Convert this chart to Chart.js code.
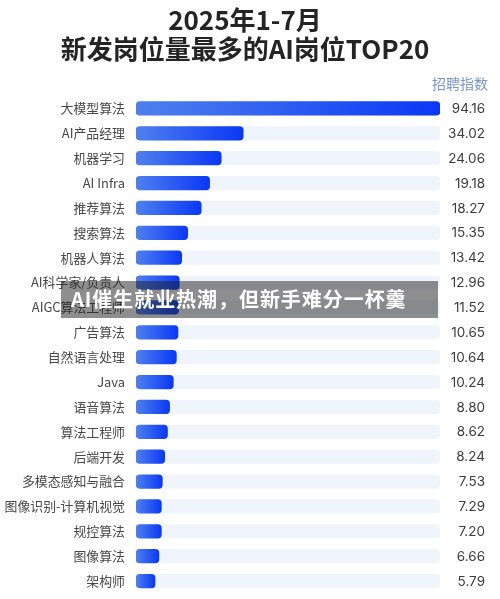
<!DOCTYPE html>
<html lang="zh-CN"><head><meta charset="utf-8">
<script src="https://cdn.jsdelivr.net/npm/chart.js@4/dist/chart.umd.min.js"></script>
<style>
html,body{margin:0;padding:0;background:#fff;width:500px;height:599px;overflow:hidden;font-family:"Noto Sans CJK SC",sans-serif}
#w{position:absolute;left:0;top:0;width:500px;height:599px}
.t{position:absolute;white-space:nowrap}
#t1,#t2{left:0;width:490px;text-align:center;font-weight:700;font-size:26px;line-height:30px;color:#242424}
#t1{top:4px}#t2{top:33px}
#u{right:12px;top:73px;font-size:14px;line-height:20px;color:#7b96cf}
#b{left:61px;top:281px;width:377px;height:37px;background:rgba(30,30,30,.5);}
#bt{left:71px;top:285px;font-size:20px;line-height:28px;font-weight:700;color:#fff;letter-spacing:.95px}
</style></head><body>
<div id="w"><canvas id="c" width="500" height="599"></canvas></div>
<div class="t" id="t1">2025年1-7月</div>
<div class="t" id="t2">新发岗位量最多的AI岗位TOP20</div>
<div class="t" id="u">招聘指数</div>
<div class="t" id="b"></div>
<div class="t" id="bt">AI催生就业热潮，但新手难分一杯羹</div>
<script>
const categories=["大模型算法","AI产品经理","机器学习","AI Infra","推荐算法","搜索算法","机器人算法","AI科学家/负责人","AIGC算法工程师","广告算法","自然语言处理","Java","语音算法","算法工程师","后端开发","多模态感知与融合","图像识别-计算机视觉","规控算法","图像算法","架构师"];
// Printed index values, as shown to the right of each bar.
const printedValues=["94.16","34.02","24.06","19.18","18.27","15.35","13.42","12.96","11.52","10.65","10.64","10.24","8.80","8.62","8.24","7.53","7.29","7.20","6.66","5.79"];
// Bar lengths as drawn in the picture (they do not follow the printed values exactly).
const barLengths=[94.16,33.2,26.4,22.8,20.2,16.0,14.15,13.4,13.2,13.0,12.5,11.55,10.4,9.75,8.9,8.15,7.85,7.85,7.1,5.9];
const trackMax=94.16;
const trackValues=categories.map(()=>trackMax);
Chart.defaults.animation=false;
Chart.defaults.font.family='"Noto Sans CJK SC","Noto Sans",sans-serif';
const valueLabels={id:'valueLabels',afterDatasetsDraw(ch){
  const {ctx,scales:{y}}=ch;ctx.save();
  ctx.font='13.5px Inter,"Noto Sans",sans-serif';ctx.fillStyle='#3c3c3c';ctx.textAlign='right';ctx.textBaseline='middle';
  printedValues.forEach((v,i)=>ctx.fillText(v,485,y.getPixelForValue(i)+0.5));
  ctx.restore();
}};
new Chart(document.getElementById('c'),{
  type:'bar',
  data:{labels:categories,datasets:[
    {data:barLengths,grouped:false,barThickness:13.5,borderRadius:4,borderSkipped:false,
     backgroundColor(c){const ch=c.chart,x=ch.scales.x;
       const a=x?x.getPixelForValue(0):NaN,b=x?x.getPixelForValue(barLengths[c.dataIndex]):NaN;
       if(!Number.isFinite(a)||!Number.isFinite(b)||c.dataIndex===undefined)return '#2a5cf0';
       const g=ch.ctx.createLinearGradient(a,0,b,0);
       g.addColorStop(0,'#4f80ee');g.addColorStop(1,'#0a38f6');return g;}},
    {data:trackValues,grouped:false,barThickness:13.5,borderRadius:4,borderSkipped:false,backgroundColor:'#f0f5fd'}
  ]},
  options:{indexAxis:'y',responsive:false,
    layout:{padding:{top:96,bottom:5.5,left:0,right:60}},
    plugins:{legend:{display:false},tooltip:{enabled:false}},
    scales:{
      x:{display:false,min:0,max:trackMax},
      y:{afterFit(s){s.width=136;s.paddingTop=0;s.paddingBottom=0},grid:{display:false},border:{display:false},
         ticks:{color:'#484848',padding:3,font:{size:12.9},autoSkip:false}}
    }},
  plugins:[valueLabels]
});
</script></body></html>
